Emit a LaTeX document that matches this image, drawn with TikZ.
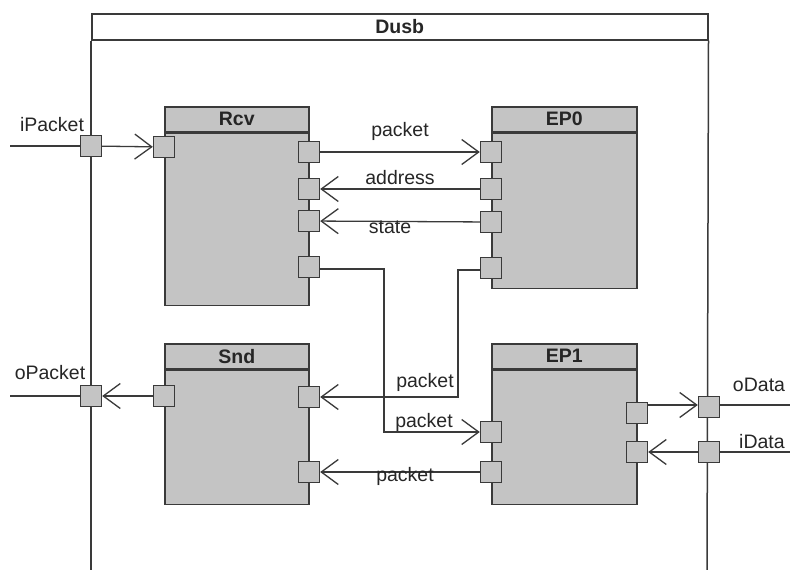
\documentclass[tikz,border=0pt]{standalone}
\usepackage{fontspec}
\setmainfont{Liberation Sans}
\usetikzlibrary{arrows.meta}
\definecolor{boxgray}{HTML}{C4C4C4}
\definecolor{lingray}{HTML}{3A3A3A}
\begin{document}
\begin{tikzpicture}[x=1pt,y=-1pt,
  every node/.style={font=\fontsize{19.5}{22}\selectfont, text=black!85},
  ln/.style={draw=lingray, line width=1.3pt},
  arr/.style={ln, -{Straight Barb[length=17pt,width=25pt,line width=1.3pt]}},
  hdr/.style={draw=lingray, line width=1.5pt, fill=boxgray, anchor=north west, inner sep=0pt, minimum height=25pt, font=\fontsize{19.5}{22}\selectfont\bfseries},
  body/.style={draw=lingray, line width=1.5pt, fill=boxgray, anchor=north west, inner sep=0pt},
  port/.style={draw=lingray, line width=1.4pt, fill=boxgray, minimum size=21pt, inner sep=0pt},
  lbl/.style={inner sep=0pt}]
\useasboundingbox[fill=white] (0,0) rectangle (790,570);

% outer component Dusb
\node[hdr, fill=white, minimum width=616pt, minimum height=26pt] (dusbh) at (91,13) {Dusb};
\coordinate (dbl) at (91,580);
\coordinate (dbr) at (707,580);
\draw[ln, line width=1.5pt] (dusbh.south west) -- (dbl);
\draw[ln, line width=1.5pt] (dusbh.south east) -- (dbr);

% inner components
\node[hdr, minimum width=144pt] (rcvh) at (164,106) {Rcv};
\node[body, minimum width=144pt, minimum height=172pt] (rcv) at (rcvh.south west) {};
\node[hdr, minimum width=145pt] (ep0h) at (491,106) {EP0};
\node[body, minimum width=145pt, minimum height=155pt] (ep0) at (ep0h.south west) {};
\node[hdr, minimum width=144pt] (sndh) at (164,343) {Snd};
\node[body, minimum width=144pt, minimum height=134pt] (snd) at (sndh.south west) {};
\node[hdr, minimum width=145pt] (ep1h) at (491,343) {EP1};
\node[body, minimum width=145pt, minimum height=134pt] (ep1) at (ep1h.south west) {};

% ports
\node[port] (pIP) at (91,146) {};
\node[port] (rcvIn) at (164,147) {};
\node[port] (rcvO1) at (309,152) {};
\node[port] (rcvO2) at (309,189) {};
\node[port] (rcvO3) at (309,221) {};
\node[port] (rcvO4) at (309,267) {};
\node[port] (ep0P1) at (491,152) {};
\node[port] (ep0P2) at (491,189) {};
\node[port] (ep0P3) at (491,222) {};
\node[port] (ep0P4) at (491,268) {};
\node[port] (sndL) at (164,396) {};
\node[port] (sndR1) at (309,397) {};
\node[port] (sndR2) at (309,472) {};
\node[port] (ep1L1) at (491,432) {};
\node[port] (ep1L2) at (491,472) {};
\node[port] (ep1R1) at (637,413) {};
\node[port] (ep1R2) at (637,452) {};
\node[port] (pOP) at (91,396) {};
\node[port] (pOD) at (709,407) {};
\node[port] (pID) at (709,452) {};

% free ends and bends
\coordinate (extIP) at (10,146);
\coordinate (extOP) at (10,396);
\coordinate (extOD) at (790,405);
\coordinate (extID) at (790,452);
\coordinate (b1) at (384,269);
\coordinate (b2) at (458,270);

% connectors
\draw[ln] (extIP) -- (pIP);
\draw[arr] (pIP) -- (rcvIn);
\draw[arr] (rcvO1) -- (ep0P1);
\draw[arr] (ep0P2) -- (rcvO2);
\draw[arr] (ep0P3) -- (rcvO3);
\draw[arr] (rcvO4.east |- b1) -- (b1) |- (ep1L1.west);
\draw[arr] (ep0P4.west |- b2) -- (b2) |- (sndR1.east);
\draw[arr] (ep1L2) -- (sndR2);
\draw[arr] (sndL) -- (pOP);
\draw[ln] (pOP) -- (extOP);
\draw[arr] (ep1R1.east |- extOD) -- (pOD.west |- extOD);
\draw[ln] (pOD.east |- extOD) -- (extOD);
\draw[arr] (pID) -- (ep1R2);
\draw[ln] (pID) -- (extID);

% redraw ports on top of lines
\foreach \p in {pIP,pOP,pOD,pID}{
  \node[port] at (\p) {};
}

% labels
\node[lbl] (lIP) at (52,125) {iPacket};
\node[lbl] (lOP) at (50,373) {oPacket};
\node[lbl] (lOD) at (759,385) {oData};
\node[lbl] (lID) at (762,442) {iData};
\node[lbl] (l1) at (400,131) {packet};
\node[lbl] (l2) at (400,178) {address};
\node[lbl] (l3) at (390,227) {state};
\node[lbl] (l4) at (425,382) {packet};
\node[lbl] (l5) at (424,422) {packet};
\node[lbl] (l6) at (405,476) {packet};
\end{tikzpicture}
\end{document}
